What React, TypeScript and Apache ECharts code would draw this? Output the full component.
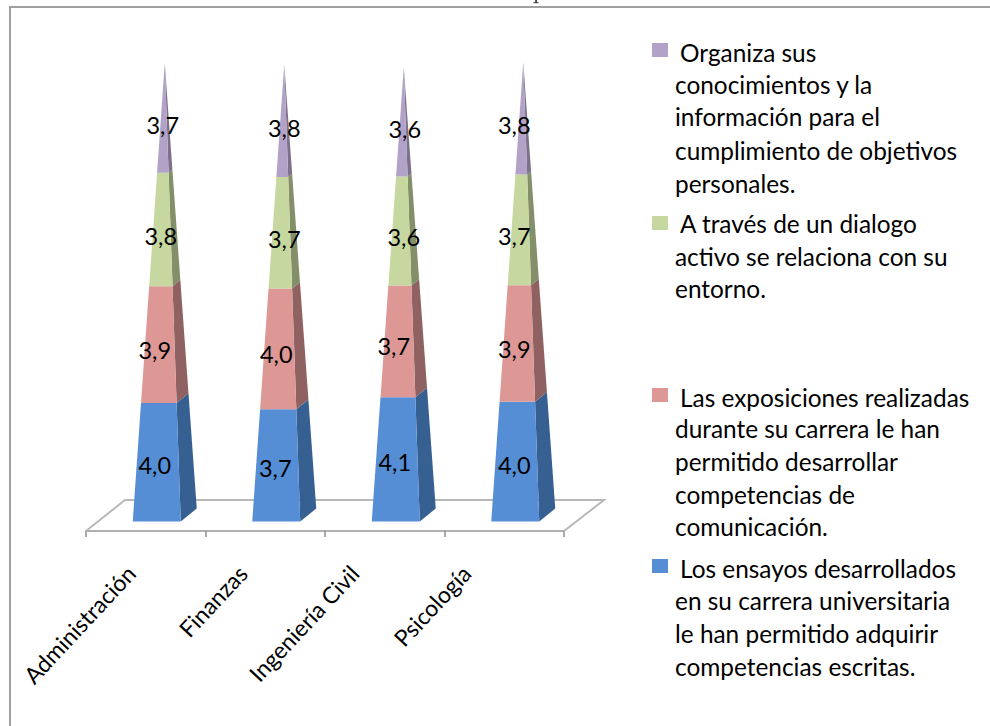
import React, { useEffect, useRef } from "react";
import * as echarts from "echarts";

const categories = ["Administración", "Finanzas", "Ingeniería Civil", "Psicología"];

// Values; one decimal of each is what the labels print.
const ensayos = [3.95, 3.74, 4.14, 3.99];
const exposiciones = [3.89, 4.02, 3.72, 3.88];
const dialogo = [3.78, 3.72, 3.64, 3.69];
const organiza = [3.66, 3.76, 3.64, 3.76];

const layers = [
  { name: "Los ensayos desarrollados en su carrera universitaria le han permitido adquirir competencias escritas.", values: ensayos, face: "#558ed5", side: "#376092" },
  { name: "Las exposiciones realizadas durante su carrera le han permitido desarrollar competencias de comunicación.", values: exposiciones, face: "#dd9795", side: "#8f6160" },
  { name: "A través de un dialogo activo se relaciona con su entorno.", values: dialogo, face: "#c6d89f", side: "#828f69" },
  { name: "Organiza sus conocimientos y la información para el cumplimiento de objetivos personales.", values: organiza, face: "#b3a2c7", side: "#7c7189" },
];

const legendBlocks = [
  { color: "#b3a2c7", swatchY: 50, lines: ["Organiza sus", "conocimientos y la", "información para el", "cumplimiento de objetivos", "personales."], ys: [52, 84, 116, 150, 183] },
  { color: "#c6d89f", swatchY: 223, lines: ["A través de un dialogo", "activo se relaciona con su", "entorno."], ys: [223, 256, 288] },
  { color: "#dd9795", swatchY: 395, lines: ["Las exposiciones realizadas", "durante su carrera le han", "permitido desarrollar", "competencias de", "comunicación."], ys: [397, 428, 461, 494, 526] },
  { color: "#558ed5", swatchY: 566, lines: ["Los ensayos desarrollados", "en su carrera universitaria", "le han permitido adquirir", "competencias escritas."], ys: [568, 600, 633, 666] },
];

const FONT = "Lato, 'Open Sans', sans-serif";
const LABEL_DX = [
  [9, 10, 10, 10],
  [9, 11, 9, 10],
  [15, 19, 19, 10],
  [17, 19, 20, 10],
];
const LABEL_DY = [3, 5, 6, 7];

function totalAt(i: number) {
  return layers.reduce((s, l) => s + l.values[i], 0);
}

function pyramidSeries(layerIdx: number) {
  const layer = layers[layerIdx];
  const data = categories.map((_, i) => {
    const start = layers.slice(0, layerIdx).reduce((s, l) => s + l.values[i], 0);
    return [i, start, start + layer.values[i], totalAt(i), layer.values[i]];
  });
  return {
    type: "custom",
    name: layer.name,
    z: 3 + layerIdx,
    data,
    encode: { x: 0, y: [1, 2] },
    renderItem: (_: any, api: any) => {
      const cat = api.value(0);
      const base = api.coord([cat, 0]);
      const apexY = api.coord([cat, api.value(3)])[1];
      const cx = base[0] + 11;
      const fl0 = [cx - 24, base[1]];
      const fr0 = [cx + 24, base[1]];
      const br0 = [cx + 40, base[1] - 13];
      const apex = [cx + 8, apexY];
      const at = (p: number[], y: number) => {
        const t = (base[1] - y) / (base[1] - apexY);
        return [p[0] + (apex[0] - p[0]) * t, p[1] + (apex[1] - p[1]) * t];
      };
      const y0 = api.coord([cat, api.value(1)])[1];
      const y1 = api.coord([cat, api.value(2)])[1];
      const a = at(fl0, y0), b = at(fr0, y0), c = at(br0, y0), d = at(br0, y1), e = at(fr0, y1), f = at(fl0, y1);
      return {
        type: "group",
        children: [
          { type: "polygon", shape: { points: [b, c, d, e] }, style: { fill: layer.side } },
          { type: "polygon", shape: { points: [a, b, e, f] }, style: { fill: layer.face } },
          {
            type: "text",
            x: base[0] + LABEL_DX[layerIdx][cat],
            y: (y0 + y1) / 2 + LABEL_DY[layerIdx],
            z2: 10,
            style: {
              text: api.value(4).toFixed(1).replace(".", ","),
              fill: "#000",
              font: `23.5px ${FONT}`,
              align: "center",
              verticalAlign: "middle",
            },
          },
        ],
      };
    },
  };
}

const floorSeries = {
  type: "custom",
  name: "Plano",
  z: 1,
  data: [[0]],
  encode: { x: 0 },
  renderItem: (params: any) => {
    const cs = params.coordSys;
    const yB = cs.y + cs.height;
    return {
      type: "polyline",
      shape: { points: [[cs.x, yB], [cs.x + 39, yB - 31], [cs.x + cs.width + 40, yB - 31], [cs.x + cs.width, yB]] },
      style: { stroke: "#b8b8b8", lineWidth: 2, fill: "none" },
    };
  },
};

const legendGraphics = legendBlocks.flatMap((b) => [
  { type: "rect", shape: { x: 652, y: b.swatchY - 7, width: 16, height: 14 }, style: { fill: b.color } },
  ...b.lines.map((line, i) => ({
    type: "text",
    x: i === 0 ? 680 : 675,
    y: b.ys[i],
    style: { text: line, fill: "#000", font: `24.4px ${FONT}`, align: "left", verticalAlign: "middle" },
  })),
]);

export default function App() {
  const ref = useRef<HTMLDivElement>(null);
  useEffect(() => {
    document.body.style.margin = "0";
    const chart = echarts.init(ref.current!, undefined, { renderer: "svg" });
    chart.setOption({
      animation: false,
      backgroundColor: "#fff",
      grid: [
        { left: 86, width: 478, top: 41.4, height: 489.6 },
        { left: 75, width: 447, top: 41.4, height: 489.6 },
      ],
      xAxis: [
        {
          type: "category",
          gridIndex: 0,
          data: categories,
          axisLine: { show: true, onZero: false, lineStyle: { color: "#b0b0b0", width: 2 } },
          axisTick: { show: true, length: 6, lineStyle: { color: "#909090", width: 1.5 } },
          axisLabel: { show: false },
        },
        {
          type: "category",
          gridIndex: 1,
          data: categories,
          axisLine: { show: false },
          axisTick: { show: false },
          axisLabel: { rotate: 47, margin: 38, interval: 0, color: "#000", fontFamily: "Lato", fontSize: 23 },
        },
      ],
      yAxis: [
        { type: "value", gridIndex: 0, min: -0.32, max: 16, show: false },
        { type: "value", gridIndex: 1, min: -0.32, max: 16, show: false },
      ],
      series: [floorSeries, ...layers.map((_, i) => pyramidSeries(i))],
      graphic: [
        { type: "polyline", shape: { points: [[10, 726], [10, 7], [990, 7]] }, style: { stroke: "#a0a0a0", lineWidth: 2, fill: "none" } },
        { type: "rect", shape: { x: 535.3, y: 0, width: 1.5, height: 3 }, style: { fill: "#222" } },
        { type: "rect", shape: { x: 533.5, y: 2.2, width: 5, height: 1 }, style: { fill: "#333" } },
        ...legendGraphics,
      ],
    });
    return () => chart.dispose();
  }, []);
  return <div ref={ref} style={{ width: 990, height: 726, position: "absolute", left: 0, top: 0 }} />;
}
